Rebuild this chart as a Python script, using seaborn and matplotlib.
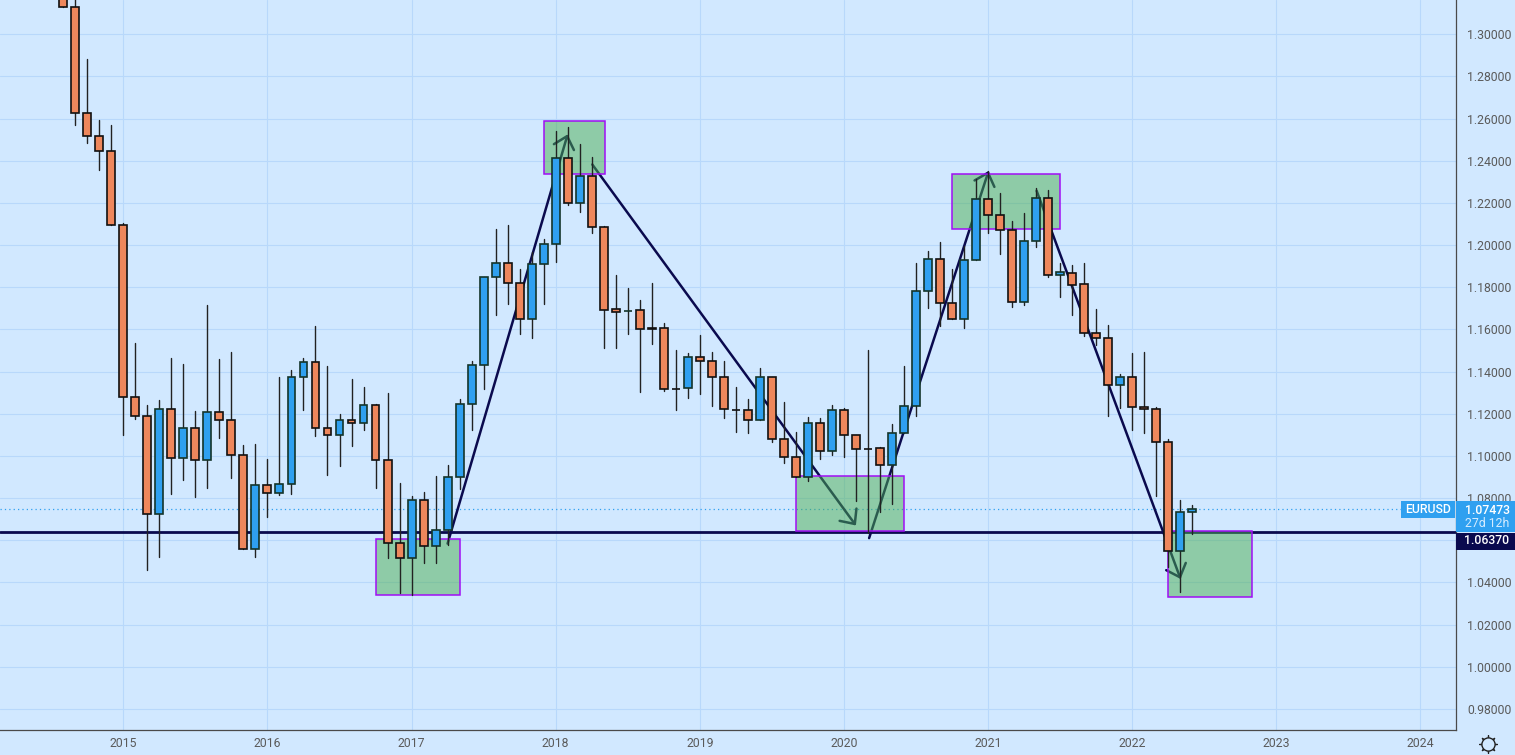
import pandas as pd
import seaborn as sns
from matplotlib import pyplot as plt
from matplotlib.patches import Rectangle

# months counted from Jan 2015, one candle per month (Aug 2014 .. Jun 2022)
months = list(range(-5, 90))
opens = [1.3387, 1.3130, 1.2628, 1.2519, 1.2447, 1.2097, 1.1281, 1.1191, 1.0726, 1.1220,
         1.0988, 1.1134, 1.0982, 1.1206, 1.1172, 1.1003, 1.0560, 1.0864, 1.0826, 1.0868,
         1.1375, 1.1447, 1.1130, 1.1100, 1.1172, 1.1154, 1.1239, 1.0979, 1.0586, 1.0518,
         1.0792, 1.0571, 1.0650, 1.0899, 1.1245, 1.1430, 1.1847, 1.1913, 1.1819, 1.1648,
         1.1909, 1.2003, 1.2414, 1.2198, 1.2326, 1.2084, 1.1695, 1.1687, 1.1691, 1.1605,
         1.1605, 1.1318, 1.1321, 1.1468, 1.1449, 1.1372, 1.1219, 1.1217, 1.1169, 1.1372,
         1.1079, 1.0994, 1.0899, 1.1155, 1.1022, 1.1216, 1.1098, 1.1033, 1.1036, 1.0956,
         1.1107, 1.1235, 1.1780, 1.1936, 1.1723, 1.1647, 1.1927, 1.2216, 1.2140, 1.2073,
         1.1732, 1.2021, 1.2225, 1.1860, 1.1869, 1.1813, 1.1581, 1.1561, 1.1338, 1.1376,
         1.1234, 1.1220, 1.1068, 1.0547, 1.0732]
closes = [1.3130, 1.2628, 1.2519, 1.2447, 1.2097, 1.1281, 1.1191, 1.0726, 1.1220, 1.0988,
          1.1134, 1.0982, 1.1206, 1.1172, 1.1003, 1.0560, 1.0864, 1.0826, 1.0868, 1.1375,
          1.1447, 1.1130, 1.1100, 1.1172, 1.1154, 1.1239, 1.0979, 1.0586, 1.0518, 1.0792,
          1.0571, 1.0650, 1.0899, 1.1245, 1.1430, 1.1847, 1.1913, 1.1819, 1.1648, 1.1909,
          1.2003, 1.2414, 1.2198, 1.2326, 1.2084, 1.1694, 1.1684, 1.1689, 1.1604, 1.1604,
          1.1316, 1.1317, 1.1468, 1.1448, 1.1372, 1.1220, 1.1218, 1.1168, 1.1373, 1.1079,
          1.0994, 1.0899, 1.1155, 1.1022, 1.1216, 1.1098, 1.1031, 1.1032, 1.0956, 1.1107,
          1.1235, 1.1780, 1.1936, 1.1723, 1.1647, 1.1927, 1.2216, 1.2140, 1.2073, 1.1732,
          1.2021, 1.2225, 1.1860, 1.1870, 1.1812, 1.1581, 1.1561, 1.1338, 1.1376, 1.1233,
          1.1220, 1.1068, 1.0547, 1.0732, 1.0747]
highs = [1.3444, 1.3220, 1.2884, 1.2595, 1.2567, 1.2106, 1.1534, 1.1241, 1.1265, 1.1464,
         1.1434, 1.1213, 1.1715, 1.1458, 1.1492, 1.1051, 1.1056, 1.0984, 1.1373, 1.1409,
         1.1464, 1.1615, 1.1425, 1.1198, 1.1364, 1.1326, 1.1246, 1.1298, 1.0870, 1.0809,
         1.0827, 1.0903, 1.0958, 1.1271, 1.1451, 1.1847, 1.2076, 1.2095, 1.1887, 1.1966,
         1.2029, 1.2540, 1.2559, 1.2479, 1.2416, 1.2090, 1.1858, 1.1797, 1.1740, 1.1820,
         1.1631, 1.1503, 1.1489, 1.1574, 1.1493, 1.1451, 1.1327, 1.1271, 1.1417, 1.1372,
         1.1256, 1.1113, 1.1185, 1.1180, 1.1241, 1.1226, 1.1098, 1.1502, 1.1041, 1.1151,
         1.1425, 1.1914, 1.1971, 1.2013, 1.1886, 1.1996, 1.2312, 1.2351, 1.2246, 1.2116,
         1.2151, 1.2269, 1.2260, 1.1914, 1.1903, 1.1914, 1.1695, 1.1619, 1.1386, 1.1487,
         1.1495, 1.1234, 1.1078, 1.0789, 1.0765]
lows = [1.3130, 1.2571, 1.2484, 1.2357, 1.2097, 1.1100, 1.1176, 1.0460, 1.0521, 1.0818,
        1.0886, 1.0803, 1.0850, 1.1086, 1.0896, 1.0560, 1.0521, 1.0711, 1.0816, 1.0820,
        1.1219, 1.1095, 1.0911, 1.0953, 1.1049, 1.1124, 1.0850, 1.0518, 1.0352, 1.0339,
        1.0494, 1.0494, 1.0576, 1.0844, 1.1124, 1.1318, 1.1669, 1.1721, 1.1579, 1.1560,
        1.1721, 1.1920, 1.2191, 1.2158, 1.2057, 1.1512, 1.1512, 1.1579, 1.1304, 1.1531,
        1.1310, 1.1219, 1.1275, 1.1294, 1.1237, 1.1181, 1.1114, 1.1110, 1.1169, 1.1068,
        1.0968, 1.0899, 1.0883, 1.0987, 1.1006, 1.0997, 1.0784, 1.0636, 1.0732, 1.0772,
        1.1107, 1.1191, 1.1702, 1.1617, 1.1647, 1.1608, 1.1927, 1.2059, 1.1958, 1.1707,
        1.1717, 1.1991, 1.1849, 1.1755, 1.1669, 1.1570, 1.1526, 1.1190, 1.1228, 1.1124,
        1.1109, 1.0811, 1.0472, 1.0356, 1.0631]

price_ticks = [0.98, 1.00, 1.02, 1.04, 1.06, 1.08, 1.10, 1.12, 1.14, 1.16, 1.18,
               1.20, 1.22, 1.24, 1.26, 1.28, 1.30]
year_ticks = [0, 12, 24, 36, 48, 60, 72, 84, 96, 108]
year_labels = ['2015', '2016', '2017', '2018', '2019', '2020', '2021', '2022', '2023', '2024']

last_price = 1.07473
support_level = 1.06370

# green boxes: month_from, month_to, price_low, price_high
box_from = [21, 35, 56, 69, 87]
box_to = [28, 40.1, 65, 78, 94]
box_low = [1.0342, 1.2337, 1.0645, 1.2075, 1.0331]
box_high = [1.0605, 1.2587, 1.0905, 1.2336, 1.0642]

# trend arrows
arrow_x0 = [27.0, 39.05, 62.1, 76.05]
arrow_y0 = [1.0584, 1.2382, 1.0610, 1.2257]
arrow_x1 = [37.0, 61.0, 72.05, 88.04]
arrow_y1 = [1.2525, 1.0670, 1.2351, 1.0416]

BG = '#d1e8ff'
GRID = '#b8d8fb'
NAVY = '#0a0a4e'
UP = '#2fa0f0'
DOWN = '#ee875c'
AXIS = '#4a4a4a'
TXT = '#5a5a5a'
W, H = 1515, 755

sns.set_style('whitegrid', {'axes.facecolor': BG, 'figure.facecolor': BG,
                            'grid.color': GRID, 'axes.edgecolor': AXIS})
plt.rcParams['font.family'] = ['Roboto', 'DejaVu Sans']

fig = plt.figure(figsize=(W / 100, H / 100), dpi=100)
ax = fig.add_axes([0, (H - 730) / H, 1456 / W, 730 / H])

df = pd.DataFrame({'month': months, 'open': opens, 'high': highs, 'low': lows, 'close': closes})
df['body_low'] = df[['open', 'close']].min(axis=1)
df['body_size'] = (df['close'] - df['open']).abs()

# wicks, two rows for each candle
wicks = df.melt(id_vars='month', value_vars=['low', 'high'], value_name='price')
sns.lineplot(data=wicks, x='month', y='price', units='month', estimator=None, sort=False,
             color='#222222', linewidth=1.0, zorder=4, ax=ax)

for rising, color, edge in [(True, UP, '#14352a'), (False, DOWN, '#111111')]:
    part = df[(df['close'] >= df['open']) == rising]
    sns.barplot(x=part['month'].values, y=part['body_size'].values, bottom=part['body_low'].values,
                native_scale=True, orient='x', width=0.66, color=color, saturation=1,
                edgecolor=edge, linewidth=1.2, errorbar=None, zorder=5, ax=ax)

ax.axhline(support_level, color=NAVY, lw=2.0, zorder=2)
ax.axhline(last_price, color=UP, lw=0.9, ls=(0, (1, 2.5)), zorder=2)

for x0, y0, x1, y1 in zip(arrow_x0, arrow_y0, arrow_x1, arrow_y1):
    ax.annotate('', xy=(x1, y1), xytext=(x0, y0), zorder=2,
                arrowprops=dict(arrowstyle='->,head_length=0.55,head_width=0.5', mutation_scale=15,
                                color=NAVY, lw=1.8, shrinkA=0, shrinkB=0))

for x0, x1, y0, y1 in zip(box_from, box_to, box_low, box_high):
    ax.add_patch(Rectangle((x0, y0), x1 - x0, y1 - y0, facecolor=(0.298, 0.686, 0.314, 0.5),
                           edgecolor='#a00ff5', lw=1.1, zorder=3))

ax.set_xlim(-10.27, 110.97)
ax.set_ylim(0.9700, 1.3162)
ax.set_xticks(year_ticks)
ax.set_xticklabels(year_labels)
ax.set_yticks(price_ticks)
# the 1.06 label sits behind the level tag in the reference
ax.set_yticklabels(['' if p == 1.06 else '{:.5f}'.format(p) for p in price_ticks])
ax.yaxis.tick_right()
ax.set_xlabel('')
ax.set_ylabel('')
ax.tick_params(axis='x', length=0, pad=5, labelsize=8.8, labelcolor=TXT)
ax.tick_params(axis='y', length=0, pad=8, labelsize=8.8, labelcolor=TXT)
ax.grid(True, color=GRID, lw=0.8)
ax.set_axisbelow(True)
for side in ['top', 'left']:
    ax.spines[side].set_visible(False)
for side in ['right', 'bottom']:
    ax.spines[side].set_color(AXIS)
    ax.spines[side].set_linewidth(0.9)


def px_box(x0, y0, x1, y1, color):
    fig.add_artist(Rectangle((x0 / W, 1 - y1 / H), (x1 - x0) / W, (y1 - y0) / H,
                             transform=fig.transFigure, facecolor=color, edgecolor='none', zorder=6))


def px_text(x, y, s, color, size=8.8, ha='center', weight='normal'):
    fig.text(x / W, 1 - y / H, s, color=color, fontsize=size, ha=ha, va='center',
             fontweight=weight, zorder=7)


# price tags on the right
px_box(1401, 501, 1455, 518, UP)
px_text(1428, 509.5, 'EURUSD', 'white', weight='medium')
px_box(1456, 501, W, 531.5, UP)
px_text(1487, 510, '{:.5f}'.format(last_price), 'white', weight='medium')
px_text(1487, 523.5, '27d 12h', '#d6ecff')
px_box(1456, 532.5, W, 549.5, NAVY)
px_text(1487, 540.5, '{:.5f}'.format(support_level), 'white', weight='medium')

# settings icon in the corner
ax.plot([1488 / 1456], [-14 / 730], marker=(8, 2, 0), ms=13, mew=0.9, color='#222222',
        transform=ax.transAxes, clip_on=False, zorder=8)
ax.plot([1488 / 1456], [-14 / 730], marker='o', ms=9.5, mew=1.0, mec='#222222', mfc=BG,
        transform=ax.transAxes, clip_on=False, zorder=9)

fig.savefig('out.png', dpi=100, facecolor=BG)
